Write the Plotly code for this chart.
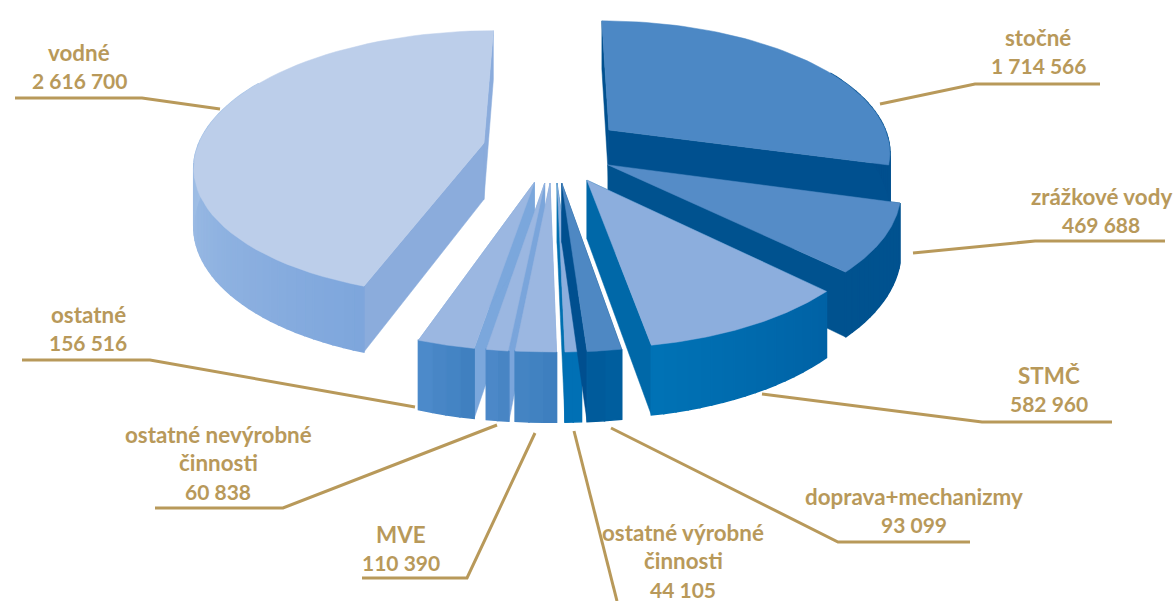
import math
import plotly.graph_objects as go

# ---- data -------------------------------------------------------------
categories = ["stočné", "zrážkové vody", "STMČ", "doprava+mechanizmy",
              "ostatné výrobné činnosti", "MVE", "ostatné nevýrobné činnosti",
              "ostatné", "vodné"]
values = [1714566, 469688, 582960, 93099, 44105, 110390, 60838, 156516, 2616700]
label_lines = [["stočné"], ["zrážkové vody"], ["STMČ"], ["doprava+mechanizmy"],
               ["ostatné výrobné", "činnosti"], ["MVE"],
               ["ostatné nevýrobné", "činnosti"], ["ostatné"], ["vodné"]]

# ---- exploded 3-D projection -------------------------------------------
CX, CY, RX, RY, PERSP, HEIGHT = 555, 183, 294, 142, 0.16, 59
offsets = [(.195, -.397), (.184, -.13), (.109, -.02), (.023, 0), (.007, 0),
           (-.017, 0), (-.035, 0), (-.07, -.005), (-.253, -.295)]
rx_scale = [1, 1, 1, 1, 1, 1, 1, 1, 1.015]
top_col = ["#4C88C5", "#558CC7", "#8CAEDD", "#4E88C3", "#8CAEDD",
           "#9BB7E1", "#9BB7E1", "#9BB7E1", "#BCCEEA"]
wall_a = ["#004F8E", "#00528F", "#0062A5", "#005F9F", "#0070B5",
          "#3C7EBE", "#4683C2", "#3E7FBF", "#7EA6DC"]
wall_b = ["#004F8E", "#00528F", "#0072B5", "#005A9A", "#0070B5",
          "#4685C4", "#4E8ACA", "#4E8BCB", "#C9DCF0"]
cut_col = ["#00508F", "#00528F", "#0068A8", "#004F8F", "#0070B0",
           "#7AA5DB", "#7AA5DB", "#7BA7DC", "#8BACDC"]
paint_order = [8, 0, 1, 2, 7, 6, 5, 4, 3]

total = sum(values)
angles = [0.0]
for v in values:
    angles.append(angles[-1] + 360 * v / total)


def project(u, v, z=0):
    s = 1 / (1 - PERSP * v)
    return CX + RX * u * s, CY + RY * v * s + z * HEIGHT * s


def rim(i, deg):
    a = math.radians(deg)
    u0, v0 = offsets[i]
    return u0 + rx_scale[i] * math.sin(a), v0 - math.cos(a)


def lerp(c1, c2, t):
    a = [int(c1[k:k + 2], 16) for k in (1, 3, 5)]
    b = [int(c2[k:k + 2], 16) for k in (1, 3, 5)]
    return "#%02x%02x%02x" % tuple(round(p + (q - p) * t) for p, q in zip(a, b))


fig = go.Figure()


def poly(pts, color, name=None, lw=0.5):
    xs = [p[0] for p in pts] + [pts[0][0]]
    ys = [p[1] for p in pts] + [pts[0][1]]
    fig.add_trace(go.Scatter(
        x=xs, y=ys, mode="lines", fill="toself", fillcolor=color,
        line=dict(color=color, width=lw), showlegend=False,
        hoverinfo="text" if name else "skip", text=name, hoveron="fills"))


for i in paint_order:
    a0, a1 = angles[i], angles[i + 1]
    apex = offsets[i]
    # radial cut walls
    for deg in (a0, a1):
        r = rim(i, deg)
        poly([project(*apex), project(*r), project(*r, 1), project(*apex, 1)], cut_col[i])
    # outer wall, shaded in strips (the far rim is hidden behind the top face)
    n = max(2, int((a1 - a0) / 2))
    for k in range(n):
        d0 = a0 + (a1 - a0) * k / n
        d1 = a0 + (a1 - a0) * (k + 1) / n
        if math.cos(math.radians((d0 + d1) / 2)) > 0.5:
            continue
        poly([project(*rim(i, d0)), project(*rim(i, d1)),
              project(*rim(i, d1), 1), project(*rim(i, d0), 1)],
             lerp(wall_a[i], wall_b[i], (k + .5) / n), lw=1.5)
    # top face
    arc = [project(*rim(i, a0 + (a1 - a0) * k / 60)) for k in range(61)]
    poly([project(*apex)] + arc, top_col[i],
         f"{categories[i]}: {values[i]:,}".replace(",", " "))

# ---- labels and leader lines -------------------------------------------
label_top = [(1038, 37.3), (1101, 196.3), (1049, 375.3), (914, 496.3), (683, 532),
             (401, 534.3), (218, 434.3), (88, 314.3), (79, 52.3)]
LINE_STEP = 28.6
leaders = [[(1100, 84), (975, 84), (880, 104)],
           [(1165, 241), (1035, 241), (913, 253)],
           [(1112, 422), (982, 422), (762, 394)],
           [(970, 542), (838, 542), (611, 428)],
           [(617, 601), (574, 431)],
           [(362, 578), (467, 578), (535, 433)],
           [(155, 508), (283, 508), (497, 425)],
           [(22, 360), (150, 360), (415, 407)],
           [(15, 98), (142, 98), (220, 109)]]
GOLD = "#B8995A"

for pts in leaders:
    fig.add_trace(go.Scatter(x=[p[0] for p in pts], y=[p[1] for p in pts], mode="lines",
                             line=dict(color=GOLD, width=3), showlegend=False,
                             hoverinfo="skip"))

for i, (x, y) in enumerate(label_top):
    number = f"{values[i]:,}".replace(",", " ")
    rows = label_lines[i] + [number]
    for r, row in enumerate(rows):
        fig.add_annotation(x=x, y=y + r * LINE_STEP,
                           xref="x", yref="y", showarrow=False, text=row,
                           font=dict(family="Lato", size=21 if row == number else 22.4,
                                     color=GOLD, weight="bold"),
                           xanchor="center", yanchor="middle")

fig.update_layout(
    width=1176, height=601, autosize=False,
    margin=dict(l=0, r=0, t=0, b=0), paper_bgcolor="white", plot_bgcolor="white",
    xaxis=dict(range=[0, 1176], visible=False, fixedrange=True),
    yaxis=dict(range=[601, 0], visible=False, fixedrange=True),
    showlegend=False,
)
fig.write_html("out.html", config={"displayModeBar": False},
               post_script="document.body.style.margin='0';document.documentElement.style.overflow='hidden';")
